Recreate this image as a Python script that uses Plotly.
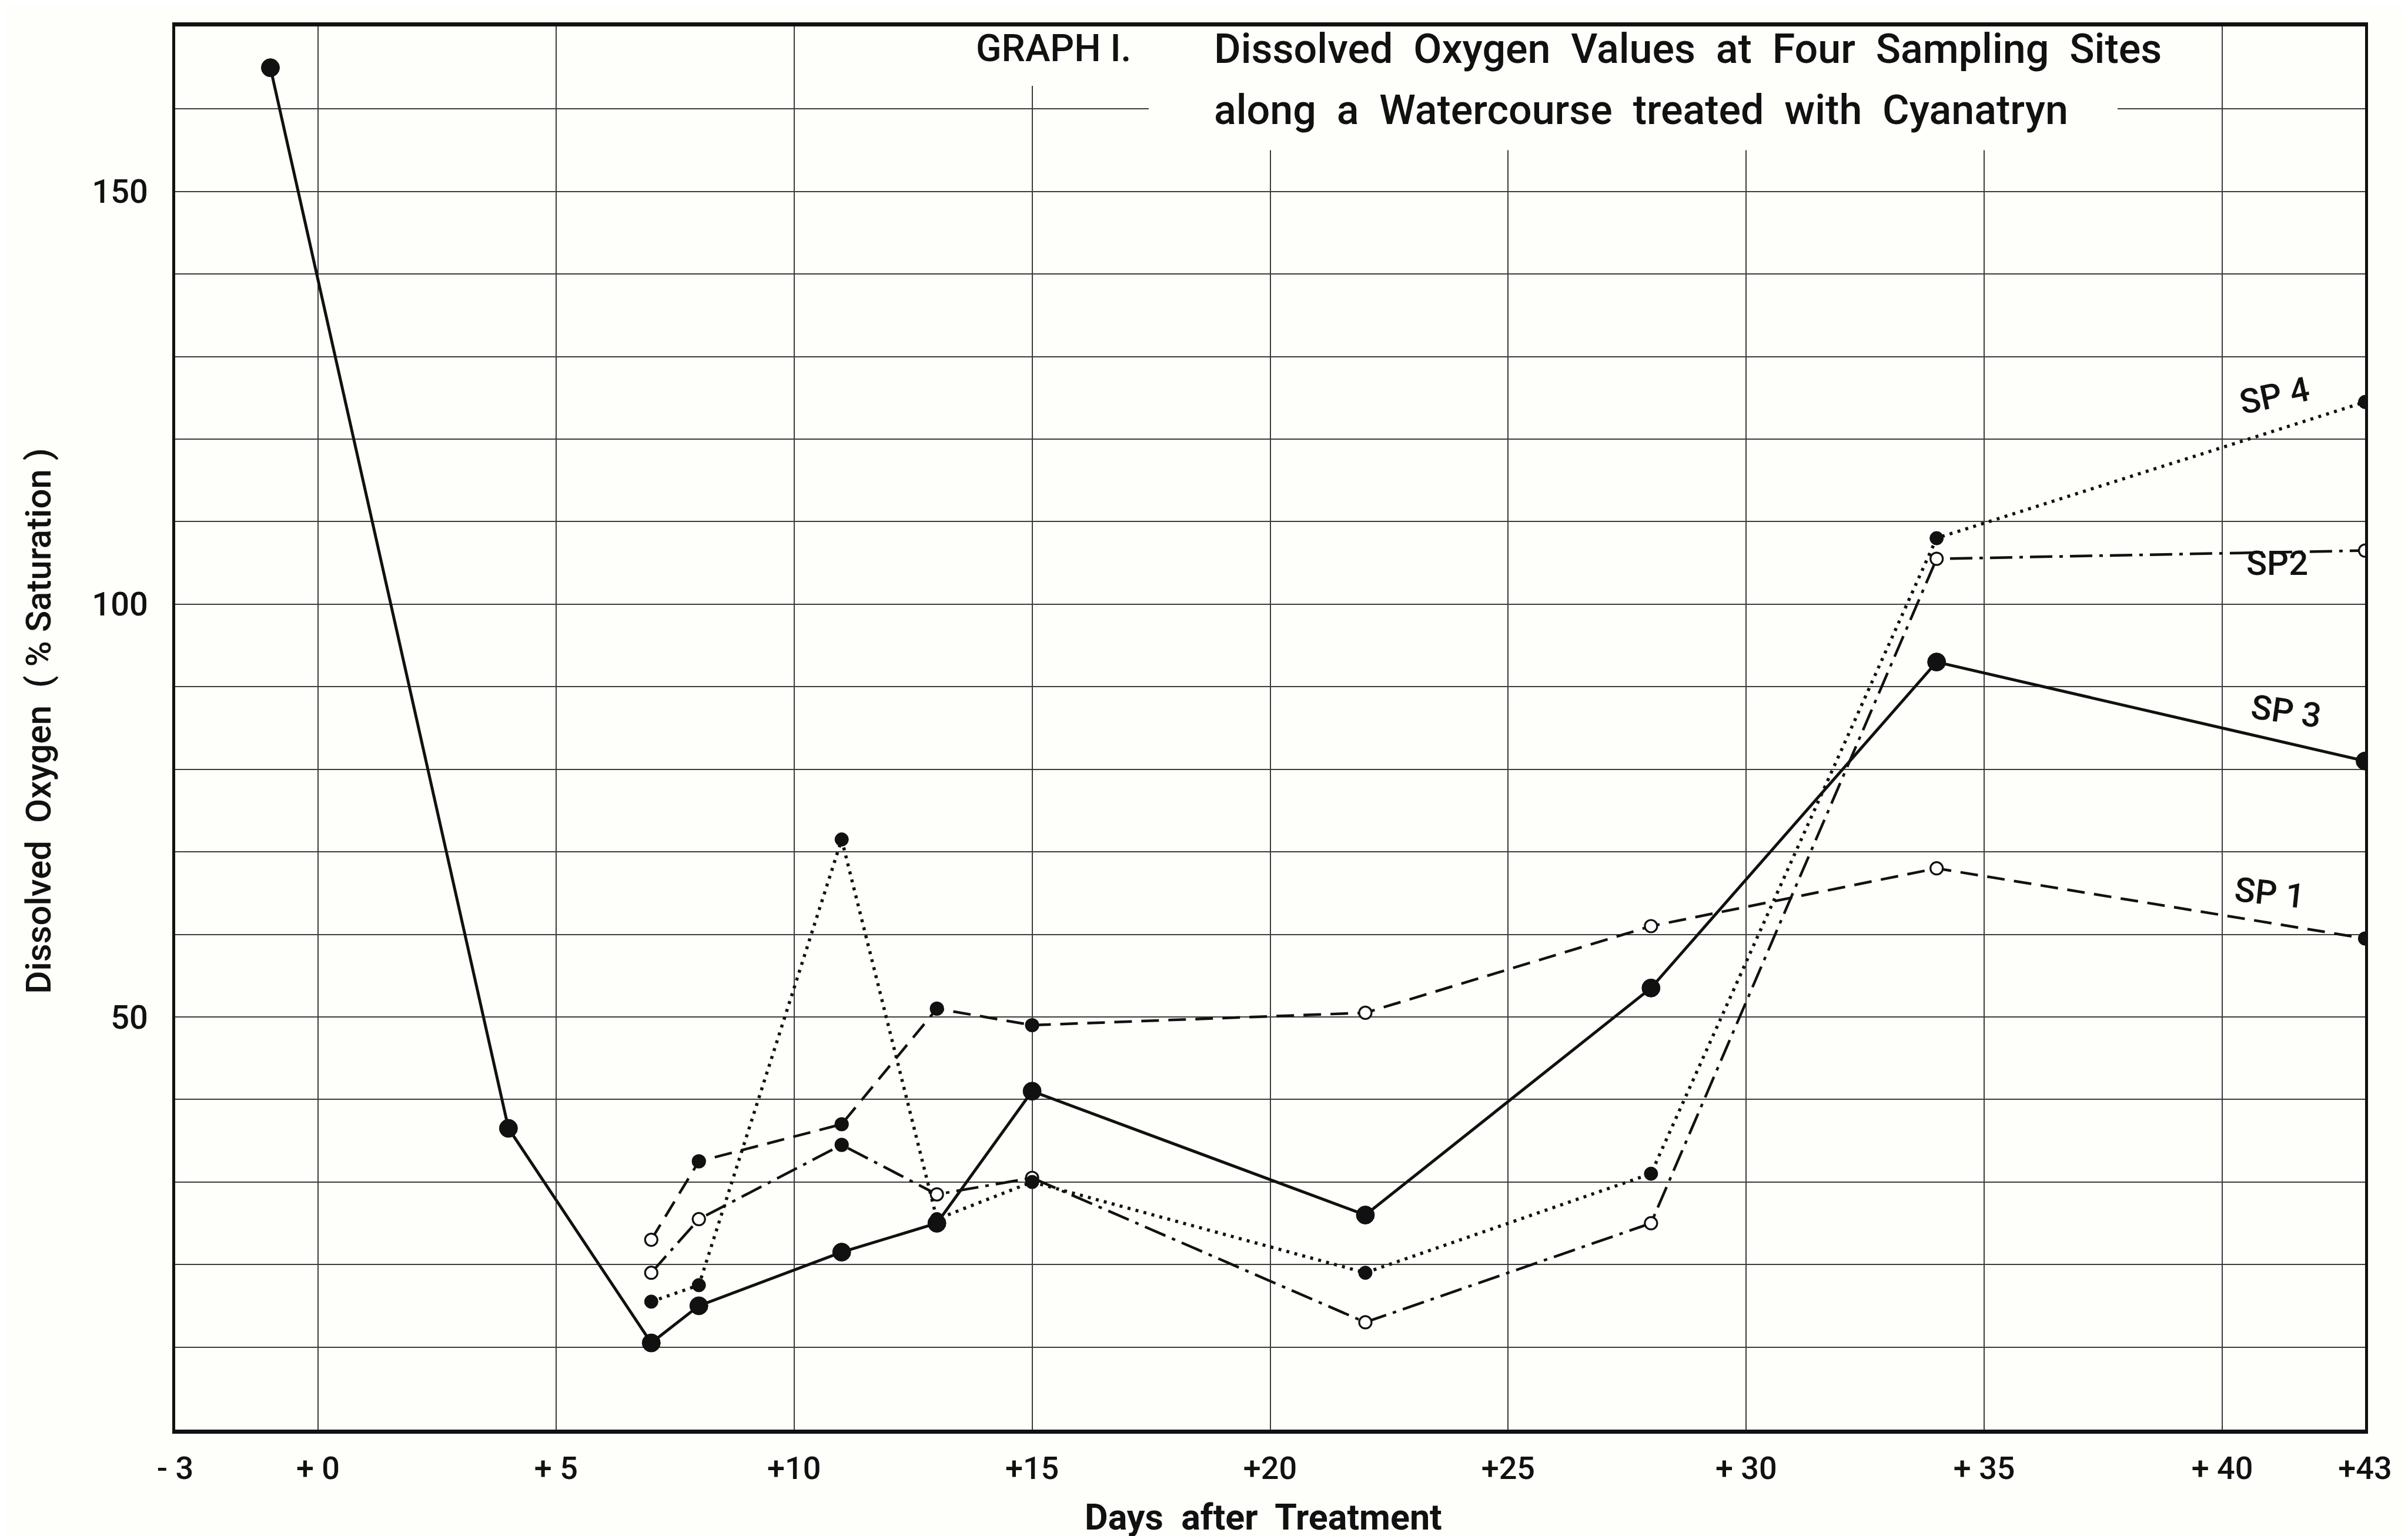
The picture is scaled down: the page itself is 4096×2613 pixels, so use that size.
import plotly.graph_objects as go

# ---------------- data ----------------
DAYS_SP3 = [-1, 4, 7, 8, 11, 13, 15, 22, 28, 34, 43]
SP3 = [165, 36.5, 10.5, 15, 21.5, 25, 41, 26, 53.5, 93, 81]

DAYS = [7, 8, 11, 13, 15, 22, 28, 34, 43]
SP1 = [23, 32.5, 37, 51, 49, 50.5, 61, 68, 59.5]
SP2 = [19, 25.5, 34.5, 28.5, 30.5, 13, 25, 105.5, 106.5]
SP4 = [15.5, 17.5, 71.5, 25.5, 30, 19, 31, 108, 124.5]

X_TICKS = [-3, 0, 5, 10, 15, 20, 25, 30, 35, 40, 43]
X_TICK_TEXT = ["- 3", "+ 0", "+ 5", "+10", "+15", "+20", "+25", "+ 30", "+ 35", "+ 40", "+43"]
Y_TICKS = [0, 10, 20, 30, 40, 50, 60, 70, 80, 90, 100, 110, 120, 130, 140, 150, 160, 170]
Y_LABELED = [50, 100, 150]

SERIES_LABELS = ["SP 4", "SP2", "SP 3", "SP 1"]

# ---------------- styles ----------------
INK = "#111111"
BG = "#fefefa"
GRID = "#3c3c3c"
FONT = "Roboto, Liberation Sans, Arial, sans-serif"
W = 500

SP1_FILL = ["white", INK, INK, INK, INK, "white", "white", "white", INK]
SP2_FILL = ["white", "white", INK, "white", "white", "white", "white", "white", "white"]


def f(size, weight=W):
    return dict(size=size, color=INK, family=FONT, weight=weight)


fig = go.Figure()

fig.add_trace(go.Scatter(
    x=DAYS, y=SP1, mode="lines+markers", name="SP1",
    line=dict(color=INK, width=4.5, dash="30px,16px"),
    marker=dict(size=21, color=SP1_FILL, line=dict(color=INK, width=3.2)),
))
fig.add_trace(go.Scatter(
    x=DAYS, y=SP2, mode="lines+markers", name="SP2",
    line=dict(color=INK, width=4.5, dash="38px,12px,6px,12px"),
    marker=dict(size=21, color=SP2_FILL, line=dict(color=INK, width=3.2)),
))
fig.add_trace(go.Scatter(
    x=DAYS, y=SP4, mode="lines+markers", name="SP4",
    line=dict(color=INK, width=5.5, dash="5px,9px"),
    marker=dict(size=23, color=INK, line=dict(color=INK, width=1)),
))
fig.add_trace(go.Scatter(
    x=DAYS_SP3, y=SP3, mode="lines+markers", name="SP3",
    line=dict(color=INK, width=5),
    marker=dict(size=31, color=INK, line=dict(color=INK, width=1)),
))

# white boxes behind the title (gridlines interrupted there)
fig.add_shape(type="rect", xref="x", yref="y", x0=13.4, x1=39.2, y0=162.8, y1=170,
              fillcolor=BG, line=dict(width=0), layer="between")
fig.add_shape(type="rect", xref="x", yref="y", x0=17.45, x1=37.8, y0=155, y1=163,
              fillcolor=BG, line=dict(width=0), layer="between")

NB = "\u00a0"
annotations = [
    dict(x=13.8, y=167.3, xref="x", yref="y", xanchor="left", yanchor="middle",
         text="GRAPH" + NB + "I.", showarrow=False, font=f(64)),
    dict(x=18.8, y=167.3, xref="x", yref="y", xanchor="left", yanchor="middle",
         text=(NB + " ").join(["Dissolved", "Oxygen", "Values", "at", "Four", "Sampling", "Sites"]),
         showarrow=False, font=f(70)),
    dict(x=18.8, y=159.9, xref="x", yref="y", xanchor="left", yanchor="middle",
         text=(NB + " ").join(["along", "a", "Watercourse", "treated", "with", "Cyanatryn"]),
         showarrow=False, font=f(70)),
    # axis titles
    dict(x=-0.0625, y=0.505, xref="paper", yref="paper", xanchor="center", yanchor="middle",
         text="Dissolved" + NB + " Oxygen" + NB + " ( % Saturation )", textangle=-90,
         showarrow=False, font=f(60)),
    dict(x=0.497, y=-0.0624, xref="paper", yref="paper", xanchor="center", yanchor="middle",
         text="Days" + NB + " after" + NB + " Treatment",
         showarrow=False, font=f(61, 700)),
    # series labels
    dict(x=41.1, y=125.3, xref="x", yref="y", text=SERIES_LABELS[0], textangle=-12,
         showarrow=False, font=f(58)),
    dict(x=41.15, y=105.0, xref="x", yref="y", text=SERIES_LABELS[1], textangle=0,
         showarrow=False, font=f(58)),
    dict(x=41.35, y=87.0, xref="x", yref="y", text=SERIES_LABELS[2], textangle=8,
         showarrow=False, font=f(58)),
    dict(x=41.0, y=65.0, xref="x", yref="y", text=SERIES_LABELS[3], textangle=6,
         showarrow=False, font=f(58)),
]

fig.update_layout(
    width=4096, height=2613,
    margin=dict(l=290, r=81, t=37, b=189, pad=0),
    paper_bgcolor=BG, plot_bgcolor=BG,
    showlegend=False,
    annotations=annotations,
    font=dict(family=FONT, color=INK),
)

fig.update_xaxes(
    range=[-3, 43], tickmode="array", tickvals=X_TICKS, ticktext=X_TICK_TEXT,
    showgrid=True, gridcolor=GRID, gridwidth=1.8, zeroline=False,
    showline=True, linecolor=INK, linewidth=7, mirror=True,
    ticks="", ticklabelstandoff=12, tickfont=f(54),
)
fig.update_yaxes(
    range=[0, 170], tickmode="array", tickvals=Y_TICKS,
    ticktext=[str(v) if v in Y_LABELED else "" for v in Y_TICKS],
    showgrid=True, gridcolor=GRID, gridwidth=1.8, zeroline=False,
    showline=True, linecolor=INK, linewidth=5, mirror=True,
    ticks="", ticklabelstandoff=30, tickfont=f(56),
)

fig.write_html("out.html")
